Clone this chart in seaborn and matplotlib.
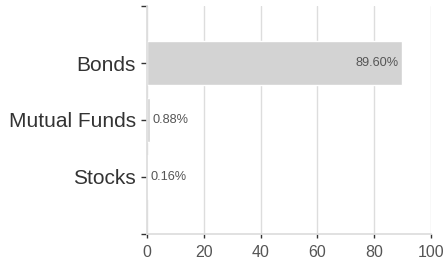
import matplotlib
matplotlib.use("Agg")
import matplotlib.pyplot as plt
import seaborn as sns
import pandas as pd

categories = ["Bonds", "Mutual Funds", "Stocks"]
values = [89.60, 0.88, 0.16]
labels = ["89.60%", "0.88%", "0.16%"]

sns.set_theme(style="white")
plt.rcParams["font.family"] = ["Liberation Sans", "DejaVu Sans"]

df = pd.DataFrame({"category": categories, "value": values})

fig = plt.figure(figsize=(4.43, 2.64), dpi=100)
ax = fig.add_axes([0.332, 0.114, 0.641, 0.863])
sns.barplot(data=df, x="value", y="category", orient="h", color="#d3d3d3",
            saturation=1, width=0.77, ax=ax)

ax.set_xlim(0, 100)
ax.set_ylim(3, -1)
ax.set_xticks([0, 20, 40, 60, 80, 100])
ax.set_yticks([-1, 0, 1, 2, 3])
ax.set_yticklabels([""] + categories + [""])
ax.set_xlabel("")
ax.set_ylabel("")
ax.grid(axis="x", color="#dddddd", linewidth=1)
ax.set_axisbelow(True)

for s in ["top", "right"]:
    ax.spines[s].set_visible(False)
ax.spines["left"].set_color("#dddddd")
ax.spines["bottom"].set_color("#dddddd")

ax.tick_params(axis="y", length=4, width=1, color="#333333", labelsize=15,
               labelcolor="#333333", left=True, pad=4)
ax.tick_params(axis="x", length=3, width=1, color="#333333", labelsize=11.5,
               labelcolor="#555555", bottom=True, pad=5)

for i, (v, t) in enumerate(zip(values, labels)):
    if v > 20:
        ax.text(v - 1, i, t, ha="right", va="center", fontsize=9.2, color="#555555")
    else:
        ax.text(v + 1, i, t, ha="left", va="center", fontsize=9.2, color="#555555")

plt.savefig("out.png", dpi=100)
